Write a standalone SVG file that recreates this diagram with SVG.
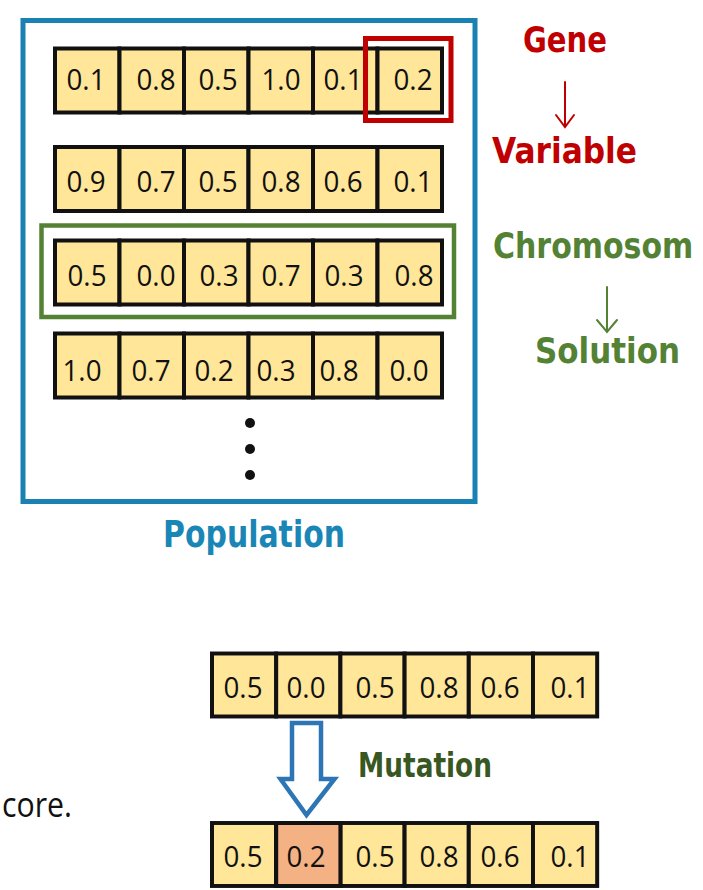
<svg xmlns="http://www.w3.org/2000/svg" width="703" height="890" viewBox="0 0 703 890">
  <style>
    .cell { fill: #FFE699; stroke: #111; stroke-width: 4; }
    .cell.mut { fill: #F4B183; }
    .num { font-family: "Open Sans", "Liberation Sans", sans-serif; font-size: 30px; fill: #111; text-anchor: middle; }
    .hand { font-family: "DejaVu Sans", "Liberation Sans", sans-serif; font-weight: bold; font-size: 36px; }
    .red { fill: #C00000; }
    .green { fill: #548235; }
  </style>
  <defs>
    <!-- one chromosome: six genes, 64.5 px wide each -->
    <g id="row6">
      <rect class="cell" x="0" y="0" width="64.5" height="64"/>
      <rect class="cell" x="64.5" y="0" width="64.5" height="64"/>
      <rect class="cell" x="129" y="0" width="64.5" height="64"/>
      <rect class="cell" x="193.5" y="0" width="64.5" height="64"/>
      <rect class="cell" x="258" y="0" width="64.5" height="64"/>
      <rect class="cell" x="322.5" y="0" width="64.5" height="64"/>
    </g>
  </defs>
  <rect width="703" height="890" fill="#fff"/>

  <!-- population frame -->
  <g id="population">
    <rect x="23" y="20.5" width="452" height="481" fill="none" stroke="#1A82B3" stroke-width="5"/>
    <text class="hand" x="254" y="547" text-anchor="middle" textLength="182" lengthAdjust="spacingAndGlyphs" style="fill:#1A86B5;font-size:38px">Population</text>
  </g>

  <g id="chromosome1">
    <use href="#row6" x="55" y="48.5"/>
    <text class="num" x="86" y="90" textLength="39" lengthAdjust="spacingAndGlyphs">0.1</text>
    <text class="num" x="156" y="90" textLength="39" lengthAdjust="spacingAndGlyphs">0.8</text>
    <text class="num" x="218" y="90" textLength="39" lengthAdjust="spacingAndGlyphs">0.5</text>
    <text class="num" x="281" y="90" textLength="39" lengthAdjust="spacingAndGlyphs">1.0</text>
    <text class="num" x="343" y="90" textLength="39" lengthAdjust="spacingAndGlyphs">0.1</text>
    <text class="num" x="413" y="90" textLength="39" lengthAdjust="spacingAndGlyphs">0.2</text>
  </g>

  <g id="chromosome2">
    <use href="#row6" x="55" y="147"/>
    <text class="num" x="86" y="192" textLength="39" lengthAdjust="spacingAndGlyphs">0.9</text>
    <text class="num" x="156" y="192" textLength="39" lengthAdjust="spacingAndGlyphs">0.7</text>
    <text class="num" x="218" y="192" textLength="39" lengthAdjust="spacingAndGlyphs">0.5</text>
    <text class="num" x="281" y="192" textLength="39" lengthAdjust="spacingAndGlyphs">0.8</text>
    <text class="num" x="343" y="192" textLength="39" lengthAdjust="spacingAndGlyphs">0.6</text>
    <text class="num" x="413" y="192" textLength="39" lengthAdjust="spacingAndGlyphs">0.1</text>
  </g>

  <g id="chromosome3">
    <use href="#row6" x="55" y="240.5"/>
    <text class="num" x="87" y="286" textLength="39" lengthAdjust="spacingAndGlyphs">0.5</text>
    <text class="num" x="156" y="286" textLength="39" lengthAdjust="spacingAndGlyphs">0.0</text>
    <text class="num" x="219" y="286" textLength="39" lengthAdjust="spacingAndGlyphs">0.3</text>
    <text class="num" x="281" y="286" textLength="39" lengthAdjust="spacingAndGlyphs">0.7</text>
    <text class="num" x="344" y="286" textLength="39" lengthAdjust="spacingAndGlyphs">0.3</text>
    <text class="num" x="414" y="286" textLength="39" lengthAdjust="spacingAndGlyphs">0.8</text>
  </g>

  <g id="chromosome4">
    <use href="#row6" x="55" y="333.5"/>
    <text class="num" x="82" y="381" textLength="39" lengthAdjust="spacingAndGlyphs">1.0</text>
    <text class="num" x="151" y="381" textLength="39" lengthAdjust="spacingAndGlyphs">0.7</text>
    <text class="num" x="214" y="381" textLength="39" lengthAdjust="spacingAndGlyphs">0.2</text>
    <text class="num" x="276" y="381" textLength="39" lengthAdjust="spacingAndGlyphs">0.3</text>
    <text class="num" x="339" y="381" textLength="39" lengthAdjust="spacingAndGlyphs">0.8</text>
    <text class="num" x="409" y="381" textLength="39" lengthAdjust="spacingAndGlyphs">0.0</text>
  </g>

  <g id="ellipsis" fill="#111">
    <circle cx="250" cy="423" r="5"/>
    <circle cx="250" cy="449" r="5"/>
    <circle cx="250" cy="475" r="5"/>
  </g>

  <!-- highlight frames -->
  <g id="gene-highlight">
    <rect x="365.5" y="38.5" width="85.5" height="82" fill="none" stroke="#C00000" stroke-width="5"/>
  </g>
  <g id="chromosome-highlight">
    <rect x="41.5" y="225.5" width="412.5" height="91.5" fill="none" stroke="#548235" stroke-width="4.5"/>
  </g>

  <!-- side labels -->
  <g id="gene-label">
    <text class="hand red" x="523" y="52" textLength="84" lengthAdjust="spacingAndGlyphs">Gene</text>
  </g>
  <g id="variable-label">
    <text class="hand red" x="492" y="163" textLength="145" lengthAdjust="spacingAndGlyphs">Variable</text>
  </g>
  <g id="chromosom-label">
    <!-- narrower font size, stretched vertically to keep the tall letters -->
    <text class="hand green" x="0" y="0" style="font-size:30px" transform="translate(493 258) scale(1 1.2)">Chromosom</text>
  </g>
  <g id="solution-label">
    <text class="hand green" x="535" y="363" textLength="145" lengthAdjust="spacingAndGlyphs">Solution</text>
  </g>

  <!-- mutation example -->
  <g id="parent">
    <use href="#row6" x="212" y="653.5" transform="translate(212 653.5) scale(0.9953 0.984) translate(-212 -653.5)"/>
    <text class="num" x="243" y="698" textLength="39" lengthAdjust="spacingAndGlyphs">0.5</text>
    <text class="num" x="306" y="698" textLength="39" lengthAdjust="spacingAndGlyphs">0.0</text>
    <text class="num" x="375" y="698" textLength="39" lengthAdjust="spacingAndGlyphs">0.5</text>
    <text class="num" x="439" y="698" textLength="39" lengthAdjust="spacingAndGlyphs">0.8</text>
    <text class="num" x="500" y="698" textLength="39" lengthAdjust="spacingAndGlyphs">0.6</text>
    <text class="num" x="570" y="698" textLength="39" lengthAdjust="spacingAndGlyphs">0.1</text>
  </g>

  <g id="offspring">
    <use href="#row6" x="212" y="823" transform="translate(212 823) scale(0.9953 0.984) translate(-212 -823)"/>
    <rect class="cell mut" x="276.2" y="823" width="64.2" height="63"/>
    <text class="num" x="243" y="867" textLength="39" lengthAdjust="spacingAndGlyphs">0.5</text>
    <text class="num" x="306" y="867" textLength="39" lengthAdjust="spacingAndGlyphs">0.2</text>
    <text class="num" x="375" y="867" textLength="39" lengthAdjust="spacingAndGlyphs">0.5</text>
    <text class="num" x="439" y="867" textLength="39" lengthAdjust="spacingAndGlyphs">0.8</text>
    <text class="num" x="500" y="867" textLength="39" lengthAdjust="spacingAndGlyphs">0.6</text>
    <text class="num" x="570" y="867" textLength="39" lengthAdjust="spacingAndGlyphs">0.1</text>
  </g>

  <g id="mutation-label">
    <text class="hand" x="358" y="777" textLength="134" lengthAdjust="spacingAndGlyphs" style="fill:#385723;font-size:34px">Mutation</text>
  </g>

  <g id="caption">
    <text x="2" y="817" textLength="70" lengthAdjust="spacingAndGlyphs" font-family="Open Sans, Liberation Sans, sans-serif" font-size="35" fill="#111">core.</text>
  </g>

  <!-- connectors -->
  <g id="connectors" fill="none" stroke-linecap="round" stroke-linejoin="miter">
    <g stroke="#C00000" stroke-width="2">
      <line x1="565" y1="82" x2="565" y2="126"/>
      <polyline points="556,115 565,127 574,115"/>
    </g>
    <g stroke="#548235" stroke-width="2">
      <line x1="607" y1="287" x2="607" y2="331"/>
      <polyline points="597,320 607,332 617,320"/>
    </g>
    <polygon points="292,723 321,723 321,779 334.5,779 306.5,815 280.5,779 292,779" fill="#fff" stroke="#2E75B6" stroke-width="4.5"/>
  </g>
</svg>
